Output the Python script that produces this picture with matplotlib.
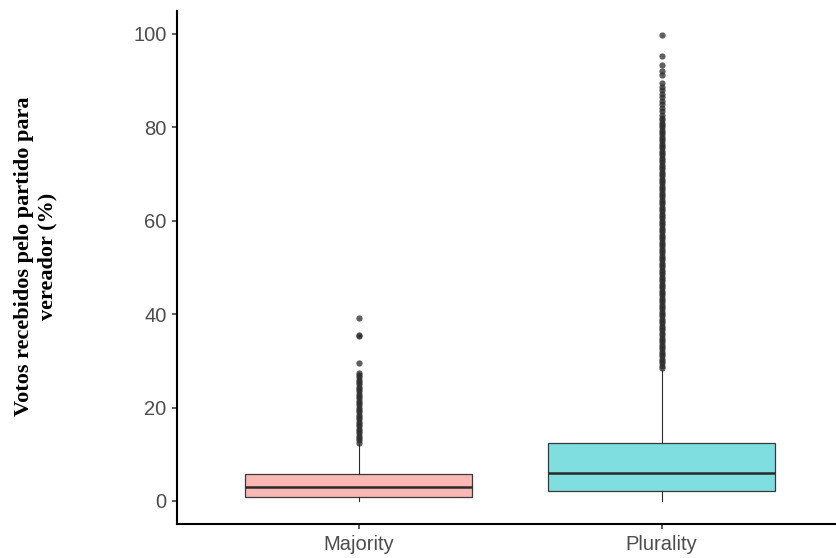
import matplotlib
matplotlib.use("Agg")
import matplotlib.pyplot as plt

# Groups and five-number summaries (percent of votes)
groups = ["Majority", "Plurality"]
q1 = [0.8, 2.1]
medians = [2.9, 6.0]
q3 = [5.7, 12.5]
whisker_low = [0.05, 0.06]
whisker_high = [12.2, 28.0]

# Outlying observations above the upper whisker
fliers_majority = [
    12.5, 13.0, 13.5, 14.0, 14.5, 15.0, 15.5, 16.0, 16.5, 17.0, 17.5, 18.0,
    18.5, 19.0, 19.5, 20.0, 20.5, 21.0, 21.5, 22.0, 22.5, 23.0, 23.5, 24.0,
    24.5, 25.0, 25.5, 26.0, 26.5, 27.0, 27.5, 29.6, 35.3, 35.5, 39.1,
]
fliers_plurality = [
    28.5, 29.0, 29.5, 30.0, 30.5, 31.0, 31.5, 32.0, 32.5, 33.0, 33.5, 34.0,
    34.5, 35.0, 35.5, 36.0, 36.5, 37.0, 37.5, 38.0, 38.5, 39.0, 39.5, 40.0,
    40.5, 41.0, 41.5, 42.0, 42.5, 43.0, 43.5, 44.0, 44.5, 45.0, 45.5, 46.0,
    46.5, 47.0, 47.5, 48.0, 48.5, 49.0, 49.5, 50.0, 50.5, 51.0, 51.5, 52.0,
    52.5, 53.0, 53.5, 54.0, 54.5, 55.0, 55.5, 56.0, 56.5, 57.0, 57.5, 58.0,
    58.5, 59.0, 59.5, 60.0, 60.5, 61.0, 61.5, 62.0, 62.5, 63.0, 63.5, 64.0,
    64.5, 65.0, 65.5, 66.0, 66.5, 67.0, 67.5, 68.0, 68.5, 69.0, 69.5, 70.0,
    70.5, 71.0, 71.5, 72.0, 72.5, 73.0, 73.5, 74.0, 74.5, 75.0, 75.5, 76.0,
    76.5, 77.0, 77.5, 78.0, 78.5, 79.0, 79.5, 80.0, 80.5, 81.0, 81.5, 82.0,
    82.7, 83.4, 84.2, 85.0, 85.7, 86.5, 87.2, 88.0, 88.7, 89.5, 91.2, 92.0,
    93.4, 95.3, 99.8,
]
fliers = [fliers_majority, fliers_plurality]

y_ticks = [0, 20, 40, 60, 80, 100]
y_label = "Votos recebidos pelo partido para\nvereador (%)"

fill_colors = ["#F9B8B3", "#7FDEE0"]
edge_color = "#3a3a3a"

fig = plt.figure(figsize=(8.36, 5.58), dpi=100)
ax = fig.add_axes([177 / 836, 33.7 / 558, (843.3 - 177) / 836, 513.7 / 558])

stats = []
for i, g in enumerate(groups):
    stats.append({
        "label": g,
        "q1": q1[i],
        "med": medians[i],
        "q3": q3[i],
        "whislo": whisker_low[i],
        "whishi": whisker_high[i],
        "fliers": fliers[i],
    })

bp = ax.bxp(
    stats,
    positions=[1, 2],
    widths=0.75,
    patch_artist=True,
    showcaps=False,
    boxprops=dict(edgecolor=edge_color, linewidth=0.9),
    medianprops=dict(color="#2a2a2a", linewidth=1.8),
    whiskerprops=dict(color="#2a2a2a", linewidth=0.8),
    flierprops=dict(marker="o", markersize=4.5, markerfacecolor="#2a2a2a",
                    markeredgecolor="none", alpha=0.75),
)
for patch, c in zip(bp["boxes"], fill_colors):
    patch.set_facecolor(c)

ax.set_xlim(0.4, 2.6)
ax.set_ylim(-5, 105)
ax.set_yticks(y_ticks)
ax.set_xticks([1, 2])
ax.set_xticklabels(groups)

for side in ("top", "right"):
    ax.spines[side].set_visible(False)
for side in ("left", "bottom"):
    ax.spines[side].set_linewidth(1.5)
    ax.spines[side].set_color("black")

ax.tick_params(axis="both", length=3.6, width=1.1, color="#333333",
               labelcolor="#4D4D4D", labelsize=14.5, pad=4.0)
for lab in ax.get_xticklabels() + ax.get_yticklabels():
    lab.set_family("Liberation Sans")

fig.text(36 / 836, 1 - 256 / 558, y_label, rotation=90, ha="center",
         va="center", multialignment="center", fontsize=16,
         fontweight="bold", family="Liberation Serif", linespacing=1.2)

fig.savefig("out.png", dpi=100)
